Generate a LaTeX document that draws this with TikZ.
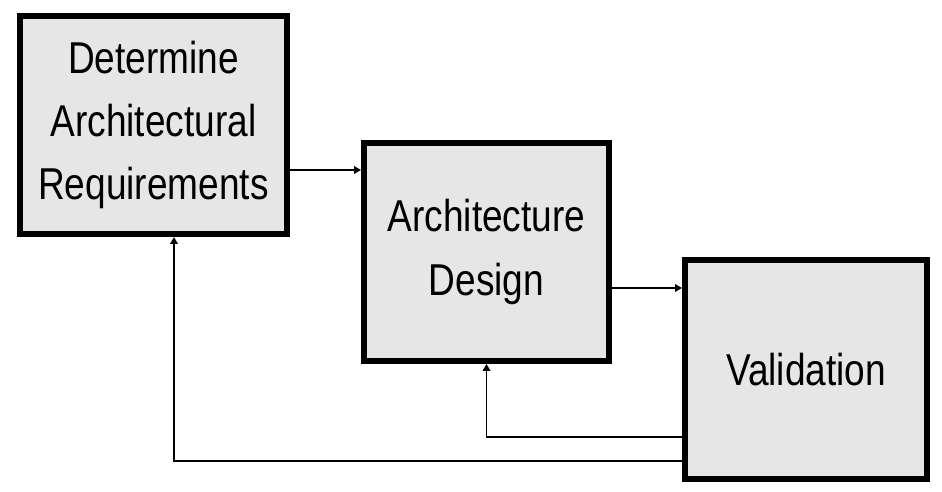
\documentclass[tikz,border=0pt]{standalone}
\usepackage{fontspec}
\usetikzlibrary{arrows.meta,positioning}
\newfontfamily\boxfont[FakeStretch=0.83]{Liberation Sans}
\definecolor{ink}{HTML}{000000}
\definecolor{boxfill}{HTML}{E6E6E6}
\newcommand{\boxsize}{\fontsize{25.4}{35.9}\selectfont}
\tikzset{
 every node/.append style={font=\boxfont\boxsize,text=ink,align=center},
 box/.style={draw=ink,fill=boxfill,line width=3.4pt,inner sep=4pt},
 flow/.style={-{Triangle[length=1.4mm,width=1.5mm]},draw=ink,line width=1pt},
}

\begin{document}
\begin{tikzpicture}[x=0.02cm,y=-0.02cm]
\useasboundingbox (0,0) rectangle (942,492);

\node[box,minimum width=5.34cm,minimum height=4.36cm] (requirements) at (153.5,125)
  {Determine\\Architectural\\Requirements};
\node[box,minimum width=4.90cm,minimum height=4.36cm] (design) at (486.5,252)
  {Architecture\\Design};
\node[box,minimum width=4.84cm,minimum height=4.38cm] (validation) at (806,369.5)
  {Validation};

% forward flow
\draw[flow] (requirements.east |- 0,170) -- (design.west |- 0,170);
\draw[flow] (design.east |- 0,288) -- (validation.west |- 0,288);

% feedback
\draw[flow] (validation.west |- 0,437) -| (design.south);
\draw[flow] (validation.west |- 0,461) -| ([xshift=0.41cm]requirements.south);
\end{tikzpicture}
\end{document}
